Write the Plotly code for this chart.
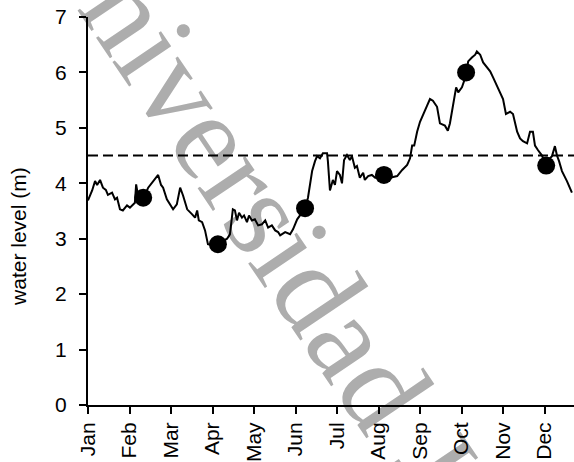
import plotly.graph_objects as go

# Month position (0 = start of Jan, 1 = start of Feb, ...) and water level (m)
month_pos = [0.00, 0.10, 0.17, 0.22, 0.29, 0.36, 0.43, 0.48, 0.58, 0.65, 0.70, 0.77, 0.84, 0.94,
             1.01, 1.08, 1.13, 1.16, 1.20, 1.28, 1.37, 1.45, 1.54, 1.61, 1.69, 1.76, 1.81, 1.90,
             2.00, 2.05, 2.14, 2.22, 2.29, 2.39, 2.51, 2.58, 2.63, 2.67, 2.75, 2.82, 2.89,
             3.01, 3.13, 3.25, 3.35, 3.42, 3.49, 3.54, 3.59, 3.64, 3.71, 3.76, 3.83, 3.88, 3.95,
             4.02, 4.10, 4.19, 4.27, 4.34, 4.43, 4.51, 4.58, 4.63, 4.75, 4.87, 4.94,
             5.04, 5.13, 5.23, 5.30, 5.40, 5.47, 5.52, 5.59, 5.66, 5.76, 5.78, 5.83, 5.90, 5.95,
             6.00, 6.07, 6.12, 6.17, 6.24, 6.31, 6.36, 6.43, 6.48, 6.55, 6.63, 6.67, 6.75, 6.84, 6.92,
             7.04, 7.16, 7.28, 7.45, 7.57, 7.69, 7.76, 7.81, 7.86, 7.93,
             8.00, 8.07, 8.17, 8.24, 8.31, 8.41, 8.48, 8.60, 8.67, 8.72, 8.80, 8.87, 8.92,
             9.01, 9.11, 9.16, 9.25, 9.33, 9.37, 9.45, 9.52, 9.61, 9.69, 9.76, 9.86, 9.93,
             10.00, 10.07, 10.17, 10.24, 10.34, 10.41, 10.48, 10.58, 10.65, 10.72, 10.77, 10.84, 10.94, 10.99,
             11.06, 11.13, 11.18, 11.25, 11.30, 11.35, 11.42, 11.54, 11.66]
water_level = [3.69, 3.87, 4.04, 3.97, 4.06, 3.92, 3.88, 3.79, 3.83, 3.71, 3.74, 3.53, 3.51, 3.60,
               3.56, 3.62, 3.65, 3.98, 3.80, 3.72, 3.78, 3.92, 4.00, 4.06, 4.15, 3.97, 3.92, 3.71,
               3.60, 3.53, 3.62, 3.92, 3.78, 3.53, 3.44, 3.38, 3.51, 3.33, 3.30, 3.15, 2.90,
               2.88, 2.90, 2.95, 3.00, 3.08, 3.53, 3.51, 3.33, 3.47, 3.38, 3.42, 3.30, 3.42, 3.33,
               3.35, 3.24, 3.26, 3.33, 3.20, 3.24, 3.15, 3.12, 3.06, 3.12, 3.08, 3.17,
               3.35, 3.45, 3.55, 3.74, 4.22, 4.40, 4.49, 4.45, 4.54, 4.54, 4.40, 3.87, 4.06, 3.97,
               4.22, 4.15, 4.00, 4.42, 4.51, 4.42, 4.49, 4.28, 4.31, 4.10, 4.19, 4.06, 4.13, 4.15, 4.10,
               4.16, 4.12, 4.10, 4.13, 4.24, 4.33, 4.45, 4.68, 4.68, 4.93,
               5.11, 5.22, 5.40, 5.52, 5.49, 5.38, 5.08, 5.04, 4.95, 5.08, 5.40, 5.73, 5.64,
               5.73, 5.95, 6.20, 6.27, 6.32, 6.38, 6.32, 6.18, 6.09, 6.02, 5.91, 5.75, 5.61,
               5.52, 5.25, 5.29, 5.25, 4.93, 4.81, 4.76, 4.72, 4.93, 4.93, 4.68, 4.60, 4.50, 4.40,
               4.35, 4.45, 4.49, 4.67, 4.50, 4.40, 4.22, 4.04, 3.83]

# Sampling dates (black dots)
sample_pos = [1.33, 3.13, 5.23, 7.13, 9.11, 11.04]
sample_level = [3.74, 2.90, 3.55, 4.15, 6.00, 4.32]

threshold = 4.5
month_labels = ["Jan", "Feb", "Mar", "Apr", "May", "Jun",
                "Jul", "Aug", "Sep", "Oct", "Nov", "Dec"]

x_end = 11.71
font_family = "Liberation Sans, Arial, sans-serif"

fig = go.Figure()

fig.add_trace(go.Scatter(
    x=[0, x_end], y=[threshold, threshold], mode="lines",
    line=dict(color="black", width=2, dash="10px,5px"),
    hoverinfo="skip", showlegend=False,
))
fig.add_trace(go.Scatter(
    x=month_pos, y=water_level, mode="lines",
    line=dict(color="black", width=2),
    showlegend=False,
))
fig.add_trace(go.Scatter(
    x=sample_pos, y=sample_level, mode="markers",
    marker=dict(color="black", size=18),
    showlegend=False,
))

# Diagonal watermark (paper-referenced so it can run past the axes), beneath the data
wm_cx, wm_cy, wm_half = 0.4002, 0.4921, 0.1
fig.add_shape(
    type="line", xref="paper", yref="paper",
    x0=wm_cx - wm_half, y0=wm_cy + wm_half, x1=wm_cx + wm_half, y1=wm_cy - wm_half,
    line=dict(color="rgba(0,0,0,0)", width=0),
    layer="below",
    label=dict(
        text="Universidad Ju",
        textposition="middle", textangle=56,
        xanchor="center", yanchor="middle", padding=0,
        font=dict(family="Liberation Serif, Times New Roman, serif",
                  size=125, color="#adadad"),
    ),
)

fig.add_annotation(
    text="water level (m)", textangle=-90,
    xref="paper", yref="y", x=-0.142, y=3.05,
    showarrow=False, xanchor="center", yanchor="middle",
    font=dict(family=font_family, size=21, color="black"),
)

fig.update_layout(
    width=574, height=462,
    margin=dict(l=88, r=0, t=17, b=52),
    paper_bgcolor="white", plot_bgcolor="white",
    showlegend=False,
)
fig.update_xaxes(
    range=[0, x_end], tickmode="array",
    tickvals=list(range(len(month_labels))), ticktext=month_labels,
    tickangle=-90, ticks="outside", ticklen=7, tickwidth=2, tickcolor="black",
    showline=True, linecolor="black", linewidth=2,
    showgrid=False, zeroline=False,
    tickfont=dict(family=font_family, size=21, color="black"),
)
fig.update_yaxes(
    range=[0, 7], tickmode="array", tickvals=list(range(8)),
    ticks="outside", ticklen=7, tickwidth=2, tickcolor="black",
    showline=True, linecolor="black", linewidth=2,
    showgrid=False, zeroline=False, ticklabelstandoff=8,
    tickfont=dict(family=font_family, size=21, color="black"),
)

fig.write_html("out.html")
